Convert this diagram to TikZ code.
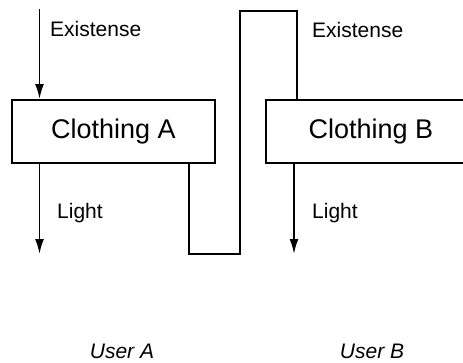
\documentclass[tikz,border=0pt]{standalone}
\usepackage{fontspec}
\setmainfont{Liberation Sans}
\usetikzlibrary{arrows.meta}
\begin{document}
\begin{tikzpicture}[x=1pt,y=-1pt,
  box/.style={draw,line width=1.9pt,minimum height=63pt,inner sep=0pt,font=\fontsize{27}{30}\selectfont},
  lbl/.style={anchor=west,inner sep=0pt,font=\fontsize{21}{24}\selectfont},
  usr/.style={inner sep=0pt,font=\fontsize{21}{24}\selectfont\itshape},
  wire/.style={line width=1.9pt},
  arr/.style={line width=1.9pt,-{Latex[length=15pt,width=9pt]}}]
\useasboundingbox (0,0) rectangle (463,362);
\clip (0,0) rectangle (463,362);
\node[box,minimum width=203pt] (A) at (113.5,131.5) {Clothing A};
\node[box,minimum width=210pt] (B) at (371,131.5) {Clothing B};
\coordinate (ea) at (39.5,9);
\coordinate (la) at (39.5,254);
\coordinate (c1) at (189,254);
\coordinate (c2) at (240,11);
\coordinate (c3) at (297,11);
\coordinate (lb) at (294,254);
\draw[arr] (ea) -- (ea |- A.north);
\draw[arr] (la |- A.south) -- (la);
\draw[wire] (c1 |- A.south) -- (c1) -- (c1 -| c2) -- (c2) -- (c3) -- (c3 |- B.north);
\draw[arr] (lb |- B.south) -- (lb);
\node[lbl] (tea) at (50,29) {Existense};
\node[lbl] (tla) at (57,213) {Light};
\node[lbl] (teb) at (312,30) {Existense};
\node[lbl] (tlb) at (312,213) {Light};
\node[usr] (ua) at (122,351) {User A};
\node[usr] (ub) at (372,351) {User B};
\end{tikzpicture}
\end{document}
